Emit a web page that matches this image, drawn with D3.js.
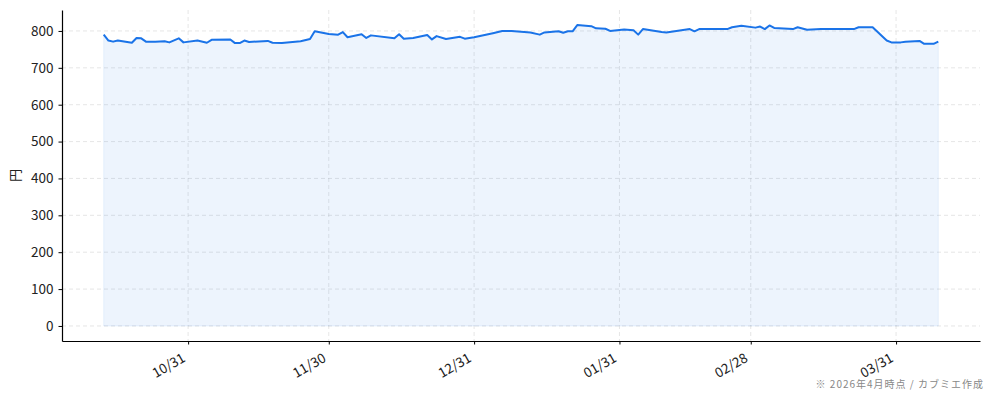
<!DOCTYPE html>
<html>
<head>
<meta charset="utf-8">
<script src="https://cdn.jsdelivr.net/npm/d3@7"></script>
<style>
  html, body { margin: 0; padding: 0; background: #fff; }
  svg { display: block; font-family: "Noto Sans CJK JP", "Noto Sans", sans-serif; }
</style>
</head>
<body>
<svg id="chart"></svg>
<script>
const width = 994, height = 401;
const margin = { top: 10, right: 14, bottom: 60, left: 62 };

// price history (date, 円)
const dates = [
  '2025-10-13', '2025-10-14', '2025-10-15', '2025-10-16', '2025-10-19', '2025-10-20', '2025-10-21',
  '2025-10-22', '2025-10-24', '2025-10-26', '2025-10-27', '2025-10-29', '2025-10-30', '2025-11-02',
  '2025-11-04', '2025-11-05', '2025-11-09', '2025-11-10', '2025-11-11', '2025-11-12', '2025-11-13',
  '2025-11-17', '2025-11-18', '2025-11-20', '2025-11-24', '2025-11-26', '2025-11-27', '2025-11-30',
  '2025-12-02', '2025-12-03', '2025-12-04', '2025-12-07', '2025-12-08', '2025-12-09', '2025-12-14',
  '2025-12-15', '2025-12-16', '2025-12-18', '2025-12-21', '2025-12-22', '2025-12-23', '2025-12-25',
  '2025-12-28', '2025-12-29', '2025-12-31', '2026-01-04', '2026-01-06', '2026-01-08', '2026-01-12',
  '2026-01-14', '2026-01-15', '2026-01-18', '2026-01-19', '2026-01-20', '2026-01-21', '2026-01-22',
  '2026-01-25', '2026-01-26', '2026-01-28', '2026-01-29', '2026-02-01', '2026-02-03', '2026-02-04',
  '2026-02-05', '2026-02-09', '2026-02-10', '2026-02-15', '2026-02-16', '2026-02-17', '2026-02-23',
  '2026-02-24', '2026-02-26', '2026-03-01', '2026-03-02', '2026-03-03', '2026-03-04', '2026-03-05',
  '2026-03-09', '2026-03-10', '2026-03-12', '2026-03-15', '2026-03-22', '2026-03-23', '2026-03-26',
  '2026-03-29', '2026-03-30', '2026-04-01', '2026-04-02', '2026-04-05', '2026-04-06', '2026-04-08',
  '2026-04-09'
];
const prices = [
  790, 774, 771, 774, 768, 781, 780,
  771, 771, 772, 769, 780, 769, 774,
  768, 776, 777, 767, 767, 774, 770,
  773, 768, 767, 772, 778, 799, 792,
  790, 797, 783, 791, 781, 788, 780,
  791, 779, 781, 789, 777, 786, 778,
  784, 779, 783, 794, 800, 800, 796,
  790, 796, 799, 795, 799, 799, 816,
  813, 807, 806, 800, 804, 802, 790,
  805, 797, 796, 805, 799, 805, 805,
  810, 814, 809, 812, 805, 815, 808,
  805, 810, 803, 805, 805, 810, 810,
  774, 769, 769, 771, 773, 765, 765,
  771
];

const tickDates = ['2025-10-31', '2025-11-30', '2025-12-31', '2026-01-31', '2026-02-28', '2026-03-31'];
const yTicks = [0, 100, 200, 300, 400, 500, 600, 700, 800];
const yLabel = '円';
const note = '※ 2026年4月時点 / カブミエ作成';

const parse = d3.utcParse('%Y-%m-%d');
const data = dates.map((d, i) => ({ date: parse(d), value: prices[i] }));

const lineColor = '#1a73e8';

const svg = d3.select('#chart').attr('width', width).attr('height', height);

const plotW = width - margin.left - margin.right;
const plotH = height - margin.top - margin.bottom;

// matplotlib-like 5% padding
const [x0, x1] = d3.extent(data, d => d.date);
const xpad = (x1 - x0) * 0.05;
const x = d3.scaleUtc()
  .domain([new Date(+x0 - xpad), new Date(+x1 + xpad)])
  .range([margin.left, margin.left + plotW]);

const ymax = d3.max(prices);
const ypad = ymax * 0.05;
const y = d3.scaleLinear()
  .domain([-ypad, ymax + ypad])
  .range([margin.top + plotH, margin.top]);

// grid
const grid = svg.append('g').attr('class', 'grid');
grid.selectAll('.gy')
  .data(yTicks)
  .enter().append('line')
  .attr('x1', margin.left).attr('x2', margin.left + plotW)
  .attr('y1', d => y(d)).attr('y2', d => y(d))
  .attr('stroke', '#b0b0b0').attr('stroke-opacity', 0.4)
  .attr('stroke-dasharray', '4,3').attr('stroke-width', 0.8);
grid.selectAll('.gx')
  .data(tickDates.map(parse))
  .enter().append('line')
  .attr('x1', d => x(d)).attr('x2', d => x(d))
  .attr('y1', margin.top).attr('y2', margin.top + plotH)
  .attr('stroke', '#b0b0b0').attr('stroke-opacity', 0.4)
  .attr('stroke-dasharray', '4,3').attr('stroke-width', 0.8);

// area
const area = d3.area()
  .x(d => x(d.date))
  .y0(y(0))
  .y1(d => y(d.value));
svg.append('path')
  .datum(data)
  .attr('d', area)
  .attr('fill', lineColor).attr('fill-opacity', 0.08)
  .attr('stroke', lineColor).attr('stroke-opacity', 0.08).attr('stroke-width', 1);

// line
const line = d3.line()
  .x(d => x(d.date))
  .y(d => y(d.value));
svg.append('path')
  .datum(data)
  .attr('d', line)
  .attr('fill', 'none')
  .attr('stroke', lineColor)
  .attr('stroke-width', 2)
  .attr('stroke-linejoin', 'round');

// axes
const yAxis = svg.append('g')
  .attr('transform', `translate(${margin.left},0)`)
  .call(d3.axisLeft(y).tickValues(yTicks).tickSize(3.5).tickPadding(5).tickSizeOuter(0));
const xAxis = svg.append('g')
  .attr('transform', `translate(0,${margin.top + plotH})`)
  .call(d3.axisBottom(x).tickValues(tickDates.map(parse)).tickFormat(d3.utcFormat('%m/%d'))
    .tickSize(3.5).tickSizeOuter(0));

[yAxis, xAxis].forEach(a => {
  a.select('.domain').attr('stroke', '#000').attr('stroke-width', 1.2);
  a.selectAll('.tick line').attr('stroke', '#000').attr('stroke-width', 1);
  a.selectAll('.tick text').attr('fill', '#222').style('font-size', '13.5px')
    .style('font-family', '"Noto Sans CJK JP", sans-serif');
});

xAxis.selectAll('.tick text')
  .attr('text-anchor', 'end')
  .attr('dy', '0.35em')
  .attr('transform', 'translate(-8,10) rotate(-30)');

// y label
svg.append('text')
  .attr('transform', `translate(20,${margin.top + plotH / 2}) rotate(-90)`)
  .attr('text-anchor', 'middle')
  .attr('fill', '#222')
  .style('font-size', '13px')
  .text(yLabel);

// note
svg.append('text')
  .attr('x', width - 10).attr('y', 388)
  .attr('text-anchor', 'end')
  .attr('fill', '#888')
  .style('font-size', '10px')
  .style('letter-spacing', '1px')
  .text(note);
</script>
</body>
</html>
